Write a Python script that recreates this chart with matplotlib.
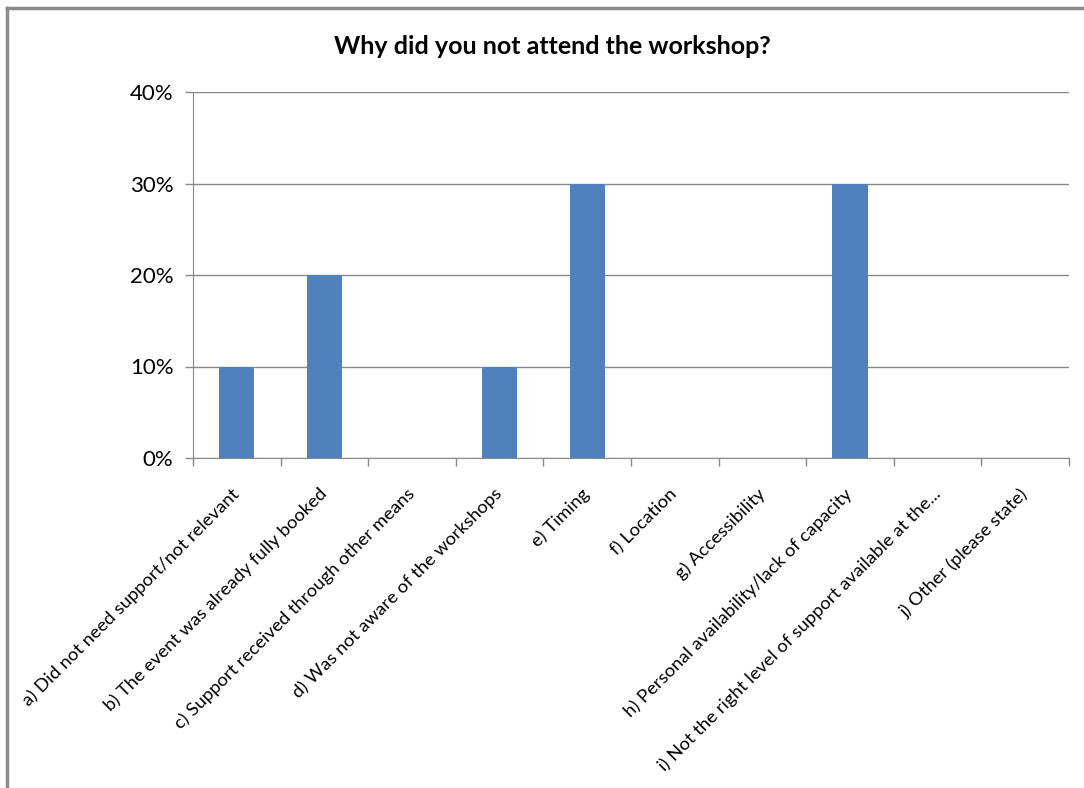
import numpy as np
from matplotlib import pyplot as plt
from matplotlib.ticker import FuncFormatter
from matplotlib.lines import Line2D

plt.rcParams['font.family'] = ['Lato', 'DejaVu Sans']

# categorias e valores (%)
categorias = ["a) Did not need support/not relevant",
              "b) The event was already fully booked",
              "c) Support received through other means",
              "d) Was not aware of the workshops",
              "e) Timing",
              "f) Location",
              "g) Accessibility",
              "h) Personal availability/lack of capacity",
              "i) Not the right level of support available at the...",
              "j) Other (please state)"]
valores = [10, 20, 0, 10, 30, 0, 0, 30, 0, 0]
yticks = [0, 10, 20, 30, 40]
titulo = "Why did you not attend the workshop?"

fig = plt.figure(figsize=(10.84, 7.88), dpi=100)
ax = fig.add_axes([193/1084, 1-458/788, (1069-193)/1084, (458-92)/788])

x = np.arange(len(categorias))
ax.bar(x, valores, width=0.4, color='#4F81BD', zorder=3)

ax.set_xlim(-0.5, len(categorias)-0.5)
ax.set_ylim(0, 40)
ax.set_yticks(yticks)
ax.yaxis.set_major_formatter(FuncFormatter(lambda v, p: '%d%%' % v))
ax.grid(axis='y', color='#888888', linewidth=1, zorder=0)

#ticks do eixo x entre as categorias
ax.set_xticks(np.arange(-0.5, len(categorias), 1), minor=False)
ax.set_xticklabels([])
ax.tick_params(axis='x', which='major', length=6, color='#888888', width=1)
ax.set_xticks(x, minor=True)
ax.set_xticklabels(categorias, minor=True, rotation=45, ha='right', va='center',
                   rotation_mode='anchor', fontsize=13.3)
ax.tick_params(axis='x', which='minor', length=0, pad=24)
ax.tick_params(axis='y', length=6, color='#888888', width=1, labelsize=16, pad=8)

for s in ['top', 'right']:
    ax.spines[s].set_visible(False)
for s in ['left', 'bottom']:
    ax.spines[s].set_color('#888888')

fig.text(552/1084, 1-47/788, titulo, ha='center', va='center', fontsize=18, fontweight='bold')

# moldura do grafico
fig.add_artist(Line2D([7/1084, 7/1084], [0, 1-8/788], color='#8c8c8c', lw=2.5, transform=fig.transFigure))
fig.add_artist(Line2D([7/1084, 1], [1-8/788, 1-8/788], color='#8c8c8c', lw=2.5, transform=fig.transFigure))

fig.savefig('out.png', dpi=100)
